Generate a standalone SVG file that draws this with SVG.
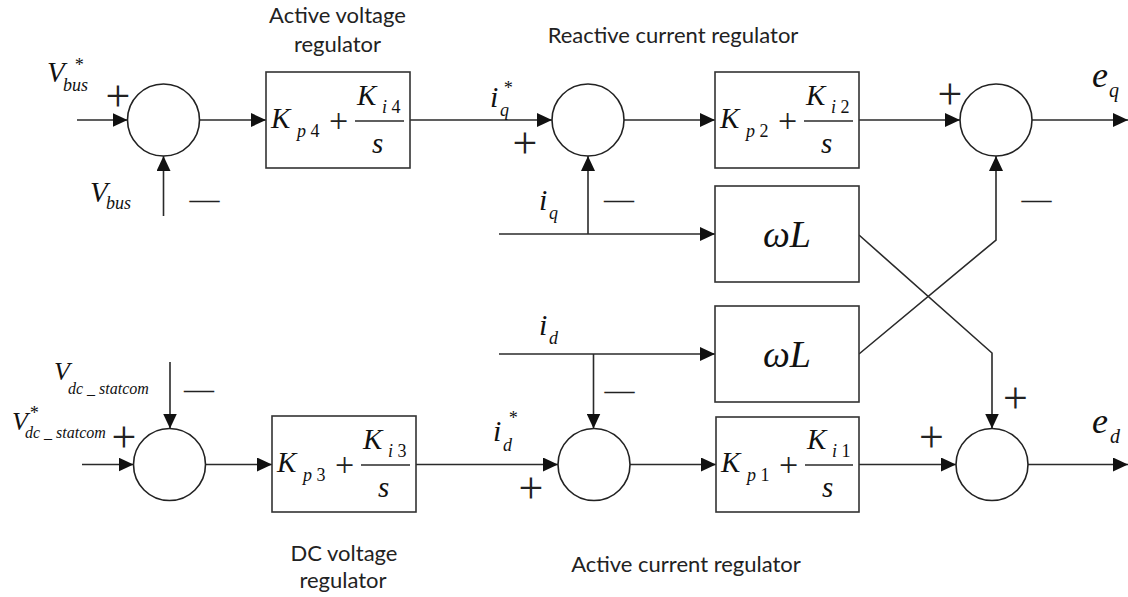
<svg xmlns="http://www.w3.org/2000/svg" width="1128" height="597" viewBox="0 0 1128 597">
<style>
.ln{fill:none;stroke:#2a2a2a;stroke-width:1.6}
.ar{fill:none;stroke:#2a2a2a;stroke-width:1.6;marker-end:url(#ah)}
.bx{fill:#fff;stroke:#333;stroke-width:1.6}
.sm{fill:#fff;stroke:#222;stroke-width:1.6}
.m{font-family:"Liberation Serif",serif;font-style:italic;fill:#111}
.n{font-style:normal}
.big{font-size:29px}
.sub{font-size:18px}
.sgn{font-family:"Liberation Serif",serif;fill:#222;text-anchor:middle}
.pl{font-size:44px}
.mi{font-size:30px}
.cap{font-family:Lato,"Open Sans",sans-serif;font-size:22px;fill:#222;text-anchor:middle}
</style>
<defs>
<marker id="ah" markerUnits="userSpaceOnUse" markerWidth="16" markerHeight="14" refX="15" refY="7" orient="auto">
<path d="M0,0 L15,7 L0,14 z" fill="#111"/>
</marker>
</defs>
<rect width="1128" height="597" fill="#fff"/>

<g id="connectors">
<line class="ar" x1="77" y1="120" x2="127.5" y2="120"/>
<line class="ar" x1="163.5" y1="216" x2="163.5" y2="156"/>
<line class="ar" x1="199.5" y1="120" x2="266" y2="120"/>
<line class="ar" x1="410" y1="120" x2="552" y2="120"/>
<line class="ar" x1="588" y1="234" x2="588" y2="156"/>
<line class="ar" x1="624" y1="120" x2="715" y2="120"/>
<line class="ar" x1="859" y1="120" x2="960" y2="120"/>
<line class="ar" x1="1032" y1="120" x2="1128" y2="120"/>
<line class="ar" x1="499" y1="234" x2="715" y2="234"/>
<polyline class="ar" points="859,235 992,353 992,428.5"/>
<polyline class="ar" points="859,354 996,240 996,156"/>
<line class="ar" x1="499" y1="354" x2="715" y2="354"/>
<line class="ar" x1="593.5" y1="354" x2="593.5" y2="428.5"/>
<line class="ar" x1="416" y1="464.5" x2="558" y2="464.5"/>
<line class="ar" x1="630" y1="464.5" x2="716" y2="464.5"/>
<line class="ar" x1="859" y1="464.5" x2="956" y2="464.5"/>
<line class="ar" x1="1028" y1="464.5" x2="1128" y2="464.5"/>
<line class="ar" x1="82" y1="464.5" x2="133.5" y2="464.5"/>
<line class="ar" x1="170" y1="362" x2="170" y2="428.5"/>
<line class="ar" x1="205.5" y1="464.5" x2="272" y2="464.5"/>
</g>

<g id="sum1"><circle class="sm" cx="163.5" cy="120" r="36"/></g>
<g id="sum2"><circle class="sm" cx="588" cy="120" r="36"/></g>
<g id="sum3"><circle class="sm" cx="996" cy="120" r="36"/></g>
<g id="sum4"><circle class="sm" cx="594" cy="464.5" r="36"/></g>
<g id="sum5"><circle class="sm" cx="992" cy="464.5" r="36"/></g>
<g id="sum6"><circle class="sm" cx="169.5" cy="464.5" r="36"/></g>

<g id="pi4">
<rect class="bx" x="266" y="72" width="144" height="96"/>
<text class="m big" x="271" y="128">K</text>
<text class="m sub" x="297" y="137">p <tspan class="n">4</tspan></text>
<text class="sgn" x="338.5" y="132" font-size="34">+</text>
<line class="ln" x1="355" y1="121" x2="404" y2="121" stroke-width="1.3"/>
<text class="m big" x="357" y="105">K</text>
<text class="m sub" x="382" y="113">i <tspan class="n">4</tspan></text>
<text class="m big" x="372" y="153">s</text>
</g>
<g id="pi2">
<rect class="bx" x="715" y="72" width="144" height="96"/>
<text class="m big" x="720" y="128">K</text>
<text class="m sub" x="746" y="137">p <tspan class="n">2</tspan></text>
<text class="sgn" x="787.5" y="132" font-size="34">+</text>
<line class="ln" x1="804" y1="121" x2="853" y2="121" stroke-width="1.3"/>
<text class="m big" x="806" y="105">K</text>
<text class="m sub" x="831" y="113">i <tspan class="n">2</tspan></text>
<text class="m big" x="821" y="153">s</text>
</g>
<g id="pi3">
<rect class="bx" x="272" y="416" width="144" height="96"/>
<text class="m big" x="277" y="472">K</text>
<text class="m sub" x="303" y="481">p <tspan class="n">3</tspan></text>
<text class="sgn" x="344.5" y="476" font-size="34">+</text>
<line class="ln" x1="361" y1="465" x2="410" y2="465" stroke-width="1.3"/>
<text class="m big" x="363" y="449">K</text>
<text class="m sub" x="388" y="457">i <tspan class="n">3</tspan></text>
<text class="m big" x="378" y="497">s</text>
</g>
<g id="pi1">
<rect class="bx" x="716" y="417" width="143" height="95"/>
<text class="m big" x="721" y="472">K</text>
<text class="m sub" x="747" y="481">p <tspan class="n">1</tspan></text>
<text class="sgn" x="788.5" y="476" font-size="34">+</text>
<line class="ln" x1="805" y1="465" x2="853" y2="465" stroke-width="1.3"/>
<text class="m big" x="807" y="449">K</text>
<text class="m sub" x="832" y="457">i <tspan class="n">1</tspan></text>
<text class="m big" x="822" y="497">s</text>
</g>
<g id="wl1">
<rect class="bx" x="715" y="186" width="144" height="96"/>
<text class="m" x="787" y="247" font-size="38" text-anchor="middle">ωL</text>
</g>
<g id="wl2">
<rect class="bx" x="715" y="306" width="144" height="96"/>
<text class="m" x="787" y="367" font-size="38" text-anchor="middle">ωL</text>
</g>

<g id="labels">
<text class="m big" x="47" y="82">V</text>
<text class="m sub" x="63" y="91">bus</text>
<text class="m sub" x="74" y="71">*</text>
<text class="m big" x="90" y="202">V</text>
<text class="m sub" x="106" y="209">bus</text>
<text class="m" x="490" y="107" font-size="30">i</text>
<text class="m sub" x="500" y="116">q</text>
<text class="m sub" x="503" y="94">*</text>
<text class="m" x="539" y="210" font-size="30">i</text>
<text class="m sub" x="549" y="219">q</text>
<text class="m" x="539" y="335" font-size="30">i</text>
<text class="m sub" x="549" y="344">d</text>
<text class="m" x="493" y="441" font-size="30">i</text>
<text class="m sub" x="503" y="451">d</text>
<text class="m sub" x="508" y="424">*</text>
<text class="m" x="1092" y="87" font-size="36">e</text>
<text class="m" x="1109" y="97" font-size="20">q</text>
<text class="m" x="1092" y="433" font-size="36">e</text>
<text class="m" x="1110" y="443" font-size="20">d</text>
<text class="m" x="54" y="380" font-size="26">V</text>
<text class="m" x="68" y="394" font-size="16">dc _ statcom</text>
<text class="m" x="12" y="430" font-size="26">V</text>
<text class="m" x="25" y="438" font-size="16">dc _ statcom</text>
<text class="m sub" x="29" y="419">*</text>
</g>

<g id="signs">
<text class="sgn pl" x="118" y="111">+</text>
<text class="sgn pl" x="525" y="158">+</text>
<text class="sgn pl" x="950" y="109">+</text>
<text class="sgn pl" x="124" y="452">+</text>
<text class="sgn pl" x="531" y="503">+</text>
<text class="sgn pl" x="931.5" y="452">+</text>
<text class="sgn pl" x="1015.5" y="413">+</text>
<text class="sgn mi" x="204.5" y="209">—</text>
<text class="sgn mi" x="619" y="209">—</text>
<text class="sgn mi" x="1036.5" y="209">—</text>
<text class="sgn mi" x="619.5" y="400">—</text>
<text class="sgn mi" x="199" y="399">—</text>
</g>

<g id="captions">
<text class="cap" x="337.5" y="23">Active voltage</text>
<text class="cap" x="337.5" y="52">regulator</text>
<text class="cap" x="673" y="43">Reactive current regulator</text>
<text class="cap" x="344" y="561">DC voltage</text>
<text class="cap" x="343" y="588">regulator</text>
<text class="cap" x="686" y="572">Active current regulator</text>
</g>
</svg>
